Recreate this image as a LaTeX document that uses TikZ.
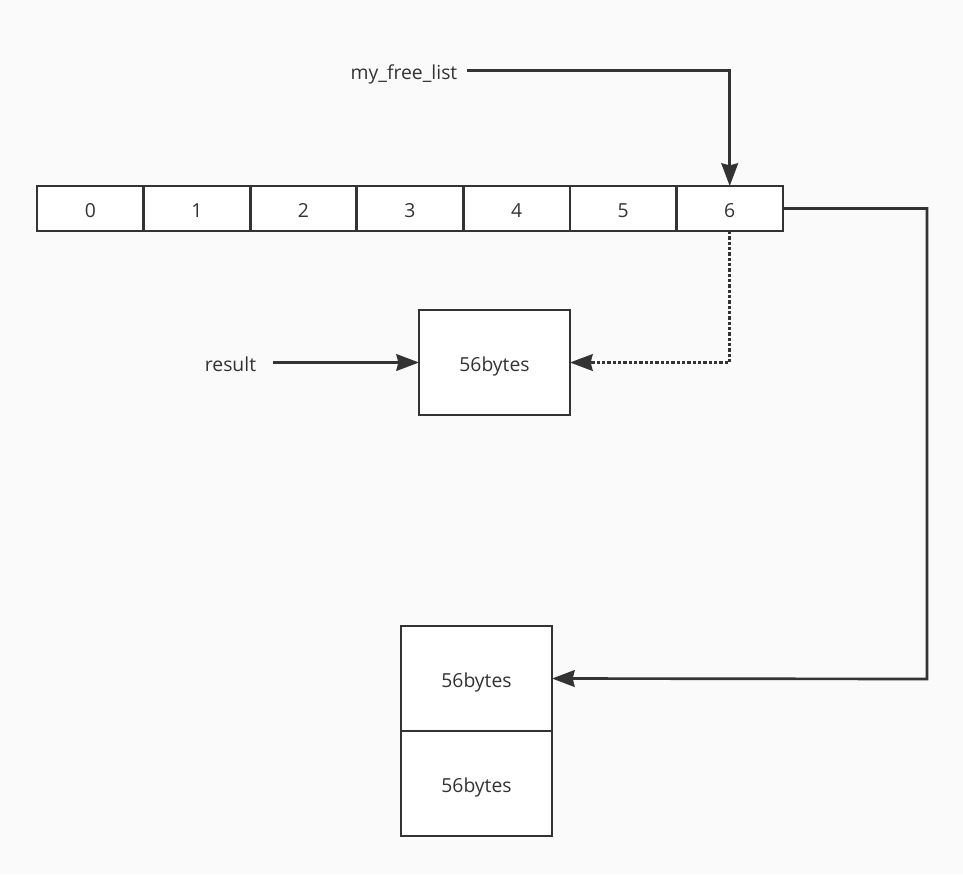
\documentclass[tikz,border=0pt]{standalone}
\usepackage{fontspec}
\setmainfont{Open Sans}
\usepackage{xcolor}
\definecolor{ink}{HTML}{333333}
\definecolor{paper}{HTML}{FAFAFA}
\usetikzlibrary{arrows.meta, positioning, calc}

\begin{document}
\begin{tikzpicture}[x=0.75pt, y=-0.75pt, line width=2pt, draw=ink, text=ink,
    font=\fontsize{14.5}{17}\selectfont,
    cell/.style={draw=ink, fill=white, minimum width=79.9pt, minimum height=33.75pt,
        inner sep=0pt, outer sep=0pt, text height=13pt, text depth=0pt},
    chunk/.style={draw=ink, fill=white, minimum width=113.25pt, minimum height=78.75pt,
        inner sep=0pt, outer sep=0pt, text height=13pt, text depth=0pt},
    tag/.style={inner sep=0pt, outer sep=0pt, text height=13pt, text depth=0pt},
    arr/.style={-{Stealth[length=17pt, width=12.5pt, inset=1.5pt]}}]
    % Background
    \fill[paper] (0,0) rectangle (963,874);

    % Free list array
    \foreach \i in {0,...,6}
        \node[cell] (c\i) at ({90.3+106.57*\i},208.5) {\i};

    % Memory chunks
    \node[chunk] (tgt) at (494.5,362.5) {56bytes};
    \node[chunk] (b1) at (476.5,678.5) {56bytes};
    \node[chunk, below=0pt of b1] (b2) {56bytes};

    % Labels
    \node[tag] (fl) at (404,70.5) {my\_free\_list};
    \node[tag] (res) at (230.5,362.5) {result};
    \coordinate (turn) at (927,679);

    % Pointers
    \draw[arr] ($(fl.east)+(10,0)$) -| (c6.north);
    \draw[arr] (c6.east) -| (turn) -- (b1.east);
    \draw[arr, dash pattern=on 2.5pt off 1.5pt] (c6.south) |- (tgt.east);
    \draw[arr] ($(res.east)+(17,0)$) -- (tgt.west);
\end{tikzpicture}
\end{document}
